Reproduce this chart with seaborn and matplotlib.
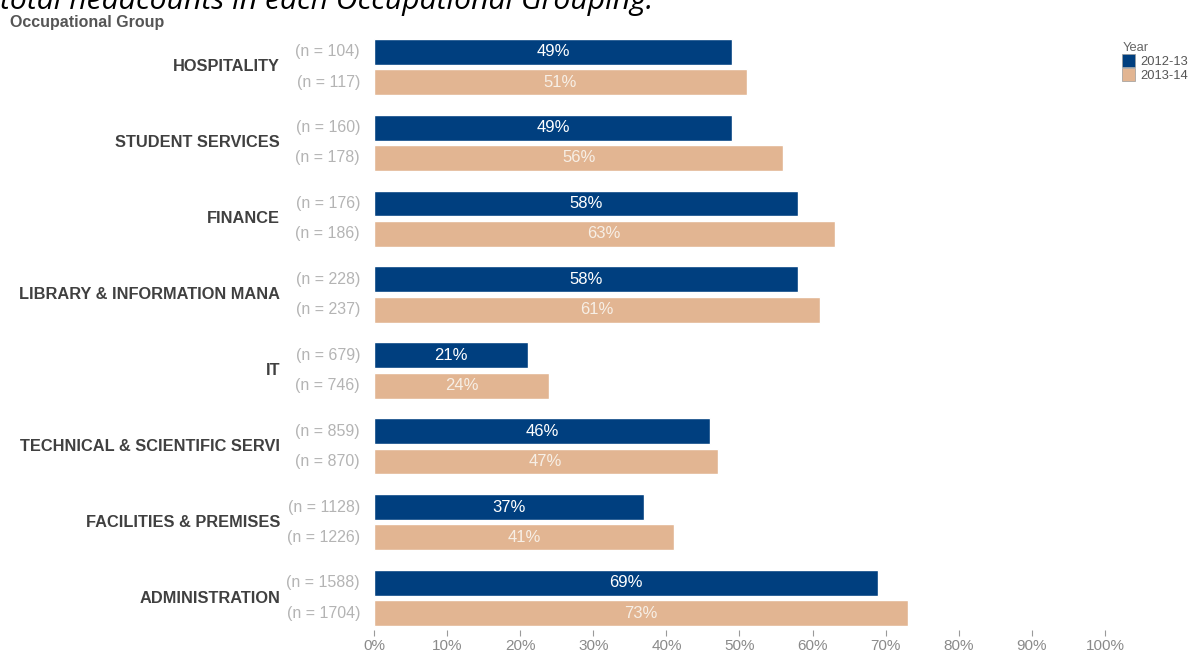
import matplotlib
matplotlib.use("Agg")
import matplotlib.pyplot as plt
import seaborn as sns
import pandas as pd
from matplotlib.ticker import FuncFormatter
from matplotlib.patches import Patch

sns.set_theme(style="white")
plt.rcParams["font.family"] = ["Liberation Sans", "DejaVu Sans"]

groups = ["HOSPITALITY", "STUDENT SERVICES", "FINANCE", "LIBRARY & INFORMATION MANA",
          "IT", "TECHNICAL & SCIENTIFIC SERVI", "FACILITIES & PREMISES", "ADMINISTRATION"]
years = ["2012-13", "2013-14"]
pct_2012 = [49, 49, 58, 58, 21, 46, 37, 69]
pct_2013 = [51, 56, 63, 61, 24, 47, 41, 73]
n_2012 = [104, 160, 176, 228, 679, 859, 1128, 1588]
n_2013 = [117, 178, 186, 237, 746, 870, 1226, 1704]
xticks = [0, 10, 20, 30, 40, 50, 60, 70, 80, 90, 100]

colors = {"2012-13": "#003f7f", "2013-14": "#e2b592"}

df = pd.DataFrame({
    "group": groups * 2,
    "year": [years[0]] * len(groups) + [years[1]] * len(groups),
    "pct": pct_2012 + pct_2013,
    "n": n_2012 + n_2013,
})

W, H = 1193, 651
fig = plt.figure(figsize=(W / 100, H / 100), dpi=100)
ax = fig.add_axes([374 / W, 1 - 636 / H, 731 / W, (636 - 29) / H])

sns.barplot(data=df, y="group", x="pct", hue="year", order=groups, hue_order=years,
            palette=colors, orient="h", width=0.8, gap=0.15, ax=ax,
            legend=False, saturation=1, errorbar=None)

ax.set_xlim(0, 100)
ax.set_ylim(7.5, -0.5)
ax.set_xticks(xticks)
ax.xaxis.set_major_formatter(FuncFormatter(lambda v, p: f"{v:.0f}%"))
ax.tick_params(axis="x", length=4, width=0.8, color="#9a9a9a", direction="in",
               pad=2, labelsize=11, labelcolor="#8a8a8a", bottom=True)
ax.set_yticks([])
ax.set_xlabel("")
ax.set_ylabel("")
for s in ax.spines.values():
    s.set_visible(False)

# value labels inside each bar, and headcount labels to the left
label_colors = ["#ffffff", "#f7efe6"]
for ci, cont in enumerate(ax.containers):
    year = years[ci]
    sub = df[df.year == year].set_index("group").loc[groups]
    ax.bar_label(cont, labels=[f"{v}%" for v in sub.pct], label_type="center",
                 color=label_colors[ci], fontsize=12)
    for bar, n in zip(cont, sub.n):
        yc = bar.get_y() + bar.get_height() / 2
        ax.annotate(f"(n = {n})", xy=(0, yc), xytext=(-10, 0),
                    textcoords="offset points", ha="right", va="center",
                    fontsize=11.5, color="#b4b4b4", annotation_clip=False)

# group names
for i, g in enumerate(groups):
    ax.annotate(g, xy=(0, i), xytext=(-(374 - 280) * 0.72, 0),
                textcoords="offset points", ha="right", va="center",
                fontsize=11.8, fontweight="bold", color="#404040",
                annotation_clip=False)

fig.text(10 / W, 1 - 22.5 / H, "Occupational Group", ha="left", va="center",
         fontsize=11.5, fontweight="bold", color="#555555")

fig.text(0, 1 - 9 / H, "total headcounts in each Occupational Grouping.",
         ha="left", va="baseline", fontsize=21.7, style="italic", color="#000000",
         family=["Open Sans", "DejaVu Sans"])

handles = [Patch(facecolor=colors[y], edgecolor="#9a9a9a", linewidth=0.5, label=y)
           for y in years]
leg = fig.legend(handles=handles, title="Year", loc="upper left",
                 bbox_to_anchor=(1117 / W, 1 - 37 / H), frameon=False,
                 fontsize=9.3, title_fontsize=9.3, handlelength=1.0, handleheight=1.2,
                 handletextpad=0.4, labelspacing=0.0, borderaxespad=0,
                 alignment="left")
for t in leg.get_texts():
    t.set_color("#555555")
leg.get_title().set_color("#666666")

fig.savefig("out.png", dpi=100)
